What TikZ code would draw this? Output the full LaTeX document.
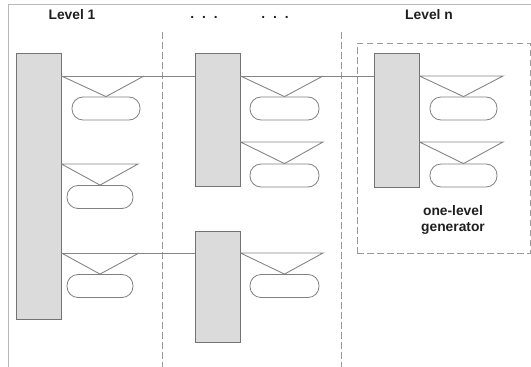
\documentclass[tikz,border=0pt]{standalone}
\usepackage{fontspec}
\setmainfont{Liberation Sans}
\begin{document}
\begin{tikzpicture}[x=1pt,y=1pt,
  frameline/.style={draw=black!28, line width=0.9pt},
  block/.style={rectangle, draw=black!55, fill=black!14, line width=0.9pt, inner sep=0pt, minimum width=45pt},
  pill/.style={rectangle, rounded corners=11pt, draw=black!50, line width=0.8pt, inner sep=0pt, minimum width=67pt, minimum height=23pt},
  conn/.style={draw=black!48, line width=0.9pt},
  sep/.style={draw=black!40, line width=0.9pt, dash pattern=on 6.5pt off 3.5pt},
  lbl/.style={font=\bfseries\fontsize{13.8}{16}\selectfont, text=black!88, align=center, inner sep=0pt}]
\useasboundingbox (0,0) rectangle (531,-367);
% partial frame
\coordinate (ftl) at (8,-4);
\coordinate (ftr) at (531,-4);
\coordinate (fbl) at (8,-367);
\draw[frameline] (ftr) -- (ftl) -- (fbl);
% headings
\node[lbl] (lev1) at (72,-15) {Level 1};
\node[lbl] (dots1) at (204,-17) {.\hspace{8pt}.\hspace{8pt}.};
\node[lbl] (dots2) at (275,-17) {.\hspace{8pt}.\hspace{8pt}.};
\node[lbl] (levn) at (429,-15) {Level n};
% separators
\coordinate (s1t) at (162,-32); \coordinate (s1b) at (162,-367);
\coordinate (s2t) at (341,-32); \coordinate (s2b) at (341,-367);
\draw[sep] (s1t) -- (s1b);
\draw[sep] (s2t) -- (s2b);
% one-level generator box
\node[sep, rectangle, minimum width=173pt, minimum height=210pt, inner sep=0pt] (gen) at (443.5,-148) {};
\node[lbl] (gentext) at (453,-220) {one-level\\generator};
% blocks
\node[block, minimum height=266pt] (B1) at (38.5,-186) {};
\node[block, minimum height=133pt] (B2) at (217.5,-119.5) {};
\node[block, minimum height=111pt] (B3) at (217.5,-286.5) {};
\node[block, minimum height=134pt] (B4) at (396.5,-120) {};
% pills
\node[pill, minimum width=68pt] (p1a) at (106,-108.5) {};
\node[pill, minimum width=66pt] (p1b) at (100,-197) {};
\node[pill, minimum width=66pt] (p1c) at (100,-286) {};
\node[pill, minimum width=69pt] (p2a) at (284.5,-108.5) {};
\node[pill, minimum width=69pt] (p2b) at (284.5,-175.5) {};
\node[pill, minimum width=69pt] (p3a) at (284.5,-286) {};
\node[pill, minimum width=67pt] (p4a) at (463.5,-108.5) {};
\node[pill, minimum width=67pt] (p4b) at (463.5,-175.5) {};
% triangle tips
\coordinate (t1a) at (144,-76);
\coordinate (t1b) at (138,-164);
\coordinate (t1c) at (139,-253);
\coordinate (t2a) at (323,-76);
\coordinate (t2b) at (323,-142);
\coordinate (t3a) at (323,-253);
\coordinate (t4a) at (503,-76);
\coordinate (t4b) at (503,-142);
% level 1
\draw[conn] (B1.east |- t1a) -- (p1a.north) -- (t1a);
\draw[conn] (B1.east |- t1b) -- (p1b.north) -- (t1b) -- (B1.east |- t1b);
\draw[conn] (B1.east |- t1c) -- (p1c.north) -- (t1c);
% middle
\draw[conn] (B2.east |- t2a) -- (p2a.north) -- (t2a);
\draw[conn] (B2.east |- t2b) -- (p2b.north) -- (t2b) -- (B2.east |- t2b);
\draw[conn] (B3.east |- t3a) -- (p3a.north) -- (t3a) -- (B3.east |- t3a);
% level n
\draw[conn] (B4.east |- t4a) -- (p4a.north) -- (t4a) -- (B4.east |- t4a);
\draw[conn] (B4.east |- t4b) -- (p4b.north) -- (t4b) -- (B4.east |- t4b);
% horizontal links between levels
\draw[conn] (B1.east |- t1a) -- (B2.west |- t1a);
\draw[conn] (B2.east |- t2a) -- (B4.west |- t2a);
\draw[conn] (B1.east |- t1c) -- (B3.west |- t1c);
\end{tikzpicture}
\end{document}
